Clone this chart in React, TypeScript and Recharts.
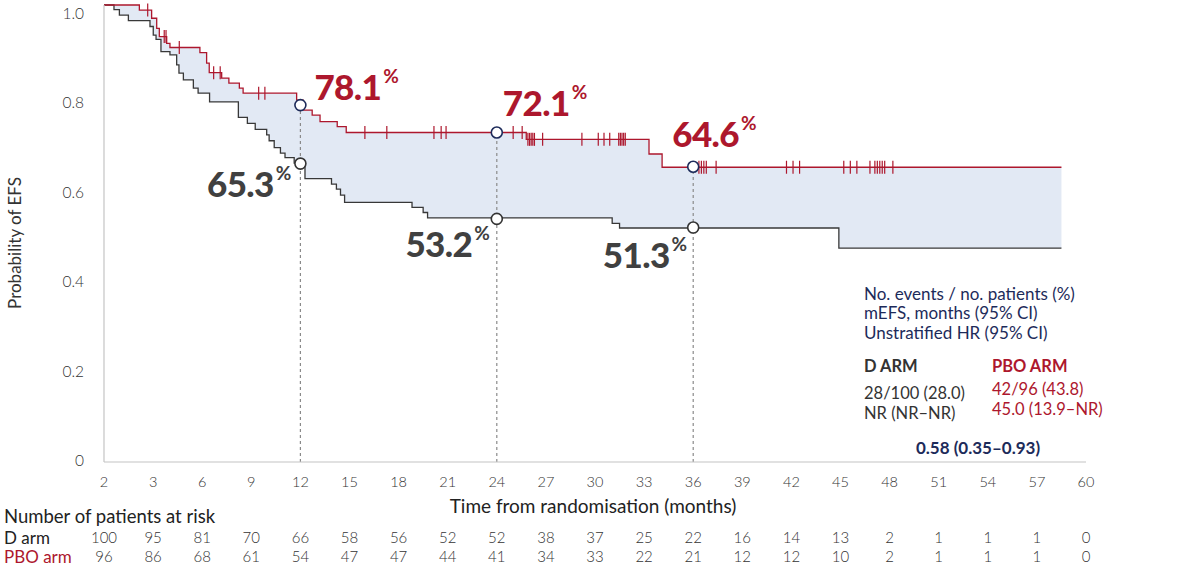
import React from 'react';
import {
  ComposedChart,
  Area,
  Line,
  Scatter,
  XAxis,
  YAxis,
  ReferenceLine,
  ReferenceDot,
} from 'recharts';

// ---------- data ----------
const xTickValues = [0, 3, 6, 9, 12, 15, 18, 21, 24, 27, 30, 33, 36, 39, 42, 45, 48, 51, 54, 57, 60];
const xTickLabels = ['2', '3', '6', '9', '12', '15', '18', '21', '24', '27', '30', '33', '36', '39', '42', '45', '48', '51', '54', '57', '60'];
const yTickValues = [0, 0.2, 0.4, 0.6, 0.8, 1];
const yTickLabels = ['0', '0.2', '0.4', '0.6', '0.8', '1.0'];

// upper (red) curve: time of each step and survival after it
const upperTimes = [0, 2.16, 2.91, 3.22, 3.38, 3.83, 4.03, 5.86, 6.27, 6.43, 7.19, 7.63, 8.27, 8.5, 11.77, 12.18, 12.72, 13.2, 14.25, 14.8, 25.8, 33.3, 34.1];
const upperSurv = [1.0, 0.989, 0.971, 0.949, 0.931, 0.916, 0.907, 0.896, 0.873, 0.852, 0.84, 0.829, 0.818, 0.807, 0.792, 0.77, 0.759, 0.745, 0.734, 0.721, 0.706, 0.674, 0.645];
const upperCensor = [2.67, 3.68, 3.79, 4.6, 6.7, 7.1, 9.45, 9.83, 15.94, 17.28, 20.16, 20.6, 20.9, 25.0, 25.55, 25.9, 26.0, 26.1, 26.2, 26.3, 26.8, 29.2, 30.2, 30.55, 30.9, 31.45, 31.55, 31.65, 31.75, 31.85, 36.35, 36.5, 36.65, 36.8, 37.4, 41.7, 42.1, 42.5, 45.2, 45.6, 46.0, 46.8, 47.1, 47.25, 47.4, 47.55, 47.7, 48.2];

// lower (dark) curve
const lowerTimes = [0, 0.61, 0.94, 1.49, 2.81, 3.01, 3.18, 3.48, 4.03, 4.44, 4.58, 4.85, 5.46, 5.75, 6.45, 8.21, 8.76, 9.24, 9.94, 10.09, 10.4, 10.78, 11.06, 11.62, 12.28, 13.9, 14.2, 14.45, 14.7, 18.82, 19.5, 19.77, 31.05, 31.5, 44.9];
const lowerSurv = [1.0, 0.99, 0.978, 0.966, 0.953, 0.934, 0.925, 0.898, 0.891, 0.869, 0.851, 0.836, 0.818, 0.807, 0.788, 0.754, 0.741, 0.728, 0.716, 0.703, 0.688, 0.676, 0.666, 0.654, 0.62, 0.608, 0.597, 0.584, 0.568, 0.557, 0.546, 0.534, 0.522, 0.512, 0.468];
const curveEnd = 58.5;

const landmarkTimes = [12, 24, 36];
const landmarkUpper = [0.781, 0.721, 0.646];
const landmarkLower = [0.653, 0.532, 0.513];
const upperLabels = ['78.1', '72.1', '64.6'];
const lowerLabels = ['65.3', '53.2', '51.3'];

const atRiskD = [100, 95, 81, 70, 66, 58, 56, 52, 52, 38, 37, 25, 22, 16, 14, 13, 2, 1, 1, 1, 0];
const atRiskPbo = [96, 86, 68, 61, 54, 47, 47, 44, 41, 34, 33, 22, 21, 12, 12, 10, 2, 1, 1, 1, 0];

const legendHeader = ['No. events / no. patients (%)', 'mEFS, months (95% CI)', 'Unstratified HR (95% CI)'];
const dArmStats = ['28/100 (28.0)', 'NR (NR\u2013NR)'];
const pboArmStats = ['42/96 (43.8)', '45.0 (13.9\u2013NR)'];
const hrText = '0.58 (0.35\u20130.93)';

// ---------- derived table ----------
const stepAt = (times: number[], vals: number[], t: number) => {
  let v = vals[0];
  for (let i = 0; i < times.length; i++) if (times[i] <= t) v = vals[i];
  return v;
};
const unionTimes = Array.from(new Set([...upperTimes, ...lowerTimes, curveEnd])).sort((a, b) => a - b);
const chartData = unionTimes.map((t) => {
  const u = stepAt(upperTimes, upperSurv, t);
  const l = stepAt(lowerTimes, lowerSurv, t);
  return { t, upper: u, lower: l, band: [l, u] };
});
const censorData = upperCensor.map((t) => ({ t, v: stepAt(upperTimes, upperSurv, t) }));

// ---------- style ----------
const RED = '#ad172d';
const DARK = '#383838';
const NAVY = '#1d2b5a';
const BAND = '#e2e9f4';
const FONT = "Lato, 'Open Sans', sans-serif";

const upperOffsets = [
  [14, -5],
  [6, -17],
  [-21, -20],
];
const lowerOffsets = [
  [-9, 33],
  [-7, 38],
  [-6, 40],
];

const XTick = (props: any) => {
  const { x, payload } = props;
  const i = xTickValues.indexOf(payload.value);
  return (
    <g fontFamily={FONT}>
      <text x={x} y={481} textAnchor="middle" dominantBaseline="central" fontSize={14.5} fontWeight={300} fill="#333">
        {xTickLabels[i]}
      </text>
      <text x={x} y={537} textAnchor="middle" dominantBaseline="central" fontSize={15} fontWeight={300} fill="#333">
        {atRiskD[i]}
      </text>
      <text x={x} y={556} textAnchor="middle" dominantBaseline="central" fontSize={15} fontWeight={300} fill="#333">
        {atRiskPbo[i]}
      </text>
    </g>
  );
};

const YTick = (props: any) => {
  const { y, payload } = props;
  const i = yTickValues.indexOf(payload.value);
  return (
    <text
      x={84}
      y={y - 2 + 10 * payload.value}
      textAnchor="end"
      dominantBaseline="central"
      fontSize={15.5}
      fontWeight={300}
      fill="#333"
      fontFamily={FONT}
    >
      {yTickLabels[i]}
    </text>
  );
};

const makeDot = (label: string, color: string, stroke: string, off: number[], anchor: 'start' | 'end') =>
  (p: any) => (
    <g>
      <circle cx={p.cx} cy={p.cy} r={5.5} fill="#fff" stroke={stroke} strokeWidth={1.6} />
      <text
        x={p.cx + off[0]}
        y={p.cy + off[1]}
        textAnchor={anchor}
        fontFamily={FONT}
        fontWeight={900}
        fontSize={35}
        letterSpacing={-0.6}
        fill={color}
      >
        {label}
        <tspan fontSize={19} fontWeight={700} dx={2} dy={-17} letterSpacing={0}>
          %
        </tspan>
      </text>
    </g>
  );

const CensorMark = (p: any) => (
  <line x1={p.cx} x2={p.cx} y1={p.cy - 6.5} y2={p.cy + 6.5} stroke={RED} strokeWidth={1.2} />
);

export default function App() {
  return (
    <div style={{ position: 'absolute', left: 0, top: 0, width: 1180, height: 568, background: '#fff' }}>
      <ComposedChart
        width={1180}
        height={568}
        data={chartData}
        margin={{ top: 5, right: 94, bottom: 0, left: 0 }}
      >
        <XAxis
          dataKey="t"
          type="number"
          domain={[0, 60]}
          ticks={xTickValues}
          tick={<XTick />}
          tickLine={false}
          axisLine={{ stroke: '#c4c4c4', strokeWidth: 1.2 }}
          height={106}
          interval={0}
          allowDataOverflow
        />
        <YAxis
          type="number"
          domain={[0, 1]}
          ticks={yTickValues}
          tick={<YTick />}
          tickLine={false}
          axisLine={{ stroke: '#c4c4c4', strokeWidth: 1.2 }}
          width={104}
          interval={0}
        />
        <Area
          dataKey="band"
          type="stepAfter"
          fill={BAND}
          fillOpacity={1}
          stroke="none"
          isAnimationActive={false}
          activeDot={false}
        />
        {landmarkTimes.map((t, i) => (
          <ReferenceLine
            key={'rl' + t}
            segment={[
              { x: t, y: 0 },
              { x: t, y: landmarkUpper[i] },
            ]}
            stroke="#8a8a8a"
            strokeWidth={1.2}
            strokeDasharray="3 3"
          />
        ))}
        <Line
          dataKey="lower"
          type="stepAfter"
          stroke={DARK}
          strokeWidth={1.3}
          dot={false}
          activeDot={false}
          isAnimationActive={false}
        />
        <Line
          dataKey="upper"
          type="stepAfter"
          stroke={RED}
          strokeWidth={1.3}
          dot={false}
          activeDot={false}
          isAnimationActive={false}
        />
        <Scatter data={censorData} dataKey="v" shape={CensorMark} isAnimationActive={false} />
        {landmarkTimes.map((t, i) => (
          <ReferenceDot
            key={'ud' + t}
            x={t}
            y={landmarkUpper[i]}
            r={5.5}
            shape={makeDot(upperLabels[i], RED, NAVY, upperOffsets[i], 'start')}
          />
        ))}
        {landmarkTimes.map((t, i) => (
          <ReferenceDot
            key={'ld' + t}
            x={t}
            y={landmarkLower[i]}
            r={5.5}
            shape={makeDot(lowerLabels[i], '#404040', '#333', lowerOffsets[i], 'end')}
          />
        ))}
      </ComposedChart>
      <svg
        width={1180}
        height={568}
        style={{ position: 'absolute', left: 0, top: 0, pointerEvents: 'none' }}
        fontFamily={FONT}
      >
        <text
          transform="translate(14,243) rotate(-90)"
          textAnchor="middle"
          dominantBaseline="central"
          fontSize={17}
          fill="#333"
        >
          Probability of EFS
        </text>
        <text x={593} y={505} textAnchor="middle" dominantBaseline="central" fontSize={19} fill="#222">
          Time from randomisation (months)
        </text>
        <text x={4} y={516} dominantBaseline="central" fontSize={18.5} fill="#222">
          Number of patients at risk
        </text>
        <text x={4} y={537} dominantBaseline="central" fontSize={17} fill="#222">
          D arm
        </text>
        <text x={4} y={556} dominantBaseline="central" fontSize={17} fill={RED}>
          PBO arm
        </text>
        {legendHeader.map((s, i) => (
          <text key={s} x={864} y={293 + i * 19.5} dominantBaseline="central" fontSize={17} fill={NAVY}>
            {s}
          </text>
        ))}
        <text x={864} y={366} dominantBaseline="central" fontSize={16.5} fontWeight={700} fill="#333">
          D ARM
        </text>
        <text x={992} y={366} dominantBaseline="central" fontSize={16.5} fontWeight={700} fill={RED}>
          PBO ARM
        </text>
        {dArmStats.map((s, i) => (
          <text key={s} x={864} y={393 + i * 20} dominantBaseline="central" fontSize={16.5} fill="#333">
            {s}
          </text>
        ))}
        {pboArmStats.map((s, i) => (
          <text key={s} x={992} y={389 + i * 20} dominantBaseline="central" fontSize={16.5} fill={RED}>
            {s}
          </text>
        ))}
        <text x={978} y={447} textAnchor="middle" dominantBaseline="central" fontSize={17} fontWeight={700} fill={NAVY}>
          {hrText}
        </text>
      </svg>
    </div>
  );
}
